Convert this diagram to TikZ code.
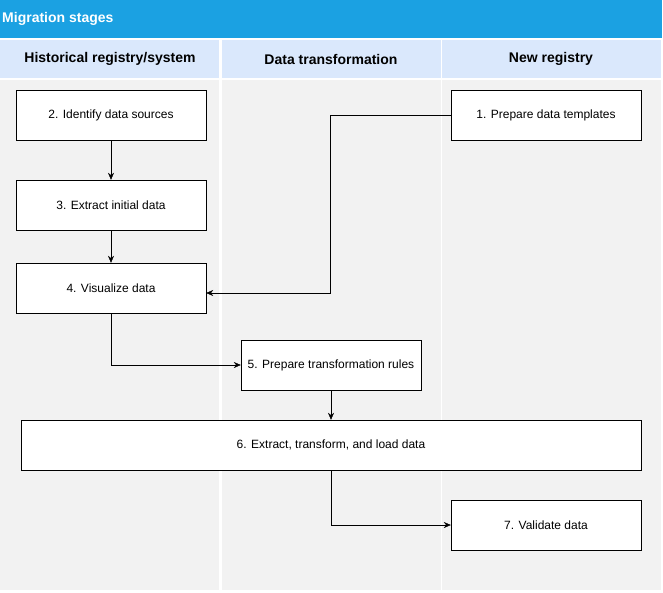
\documentclass[tikz,border=0pt]{standalone}
\usepackage{fontspec}
\setmainfont{Liberation Sans}
\usetikzlibrary{arrows.meta}
\definecolor{titleblue}{HTML}{1BA1E2}
\definecolor{headblue}{HTML}{DAE8FC}
\definecolor{lanegray}{HTML}{F2F2F2}
\tikzset{
  stage/.style={draw,fill=white,minimum height=50pt,font=\fontsize{12}{14}\selectfont,inner sep=0pt},
  lanehead/.style={font=\bfseries\fontsize{14}{16}\selectfont},
  flow/.style={-{Stealth[length=7pt,width=6pt]}}
}
\begin{document}
\begin{tikzpicture}[x=1pt,y=-1pt]
        \useasboundingbox (0,0) rectangle (663,592);
        % lanes
        \fill[titleblue] (0,0) rectangle (662,38);
        \draw[white] (0,38) -- (662,38);
        \node[anchor=west,text=white,font=\bfseries\fontsize{14}{16}\selectfont,inner sep=0pt] (title) at (2,19) {Migration stages};
        \foreach \x in {0,222,442} {
          \fill[headblue] (\x,40) rectangle ++(219,38);
          \fill[lanegray] (\x,80) rectangle ++(219,510);
        }
        \node[lanehead] (h1) at (110,59) {Historical registry/system};
        \node[lanehead] (h2) at (331,59) {Data transformation};
        \node[lanehead] (h3) at (551,59) {New registry};
        % stages
        \node[stage,minimum width=190pt] (s1) at (546,115) {1. Prepare data templates};
        \node[stage,minimum width=190pt] (s2) at (111,115) {2. Identify data sources};
        \node[stage,minimum width=190pt] (s3) at (111,205) {3. Extract initial data};
        \node[stage,minimum width=190pt] (s4) at (111,288) {4. Visualize data};
        \node[stage,minimum width=180pt] (s5) at (331,365) {5. Prepare transformation rules};
        \node[stage,minimum width=620pt] (s6) at (331,445) {6. Extract, transform, and load data};
        \node[stage,minimum width=190pt] (s7) at (546,525) {7. Validate data};
        \draw[flow] (s2) -- (s3);
        \draw[flow] (s3) -- (s4);
        \draw[flow] (s1.west) -| (330,293) -- (s4.east |- 0,293);
        \draw[flow] (s4.south) |- (s5.west);
        \draw[flow] (s5.south) -- (s6.north -| s5.south);
        \draw[flow] (s6.south) |- (s7.west);
\end{tikzpicture}
\end{document}
